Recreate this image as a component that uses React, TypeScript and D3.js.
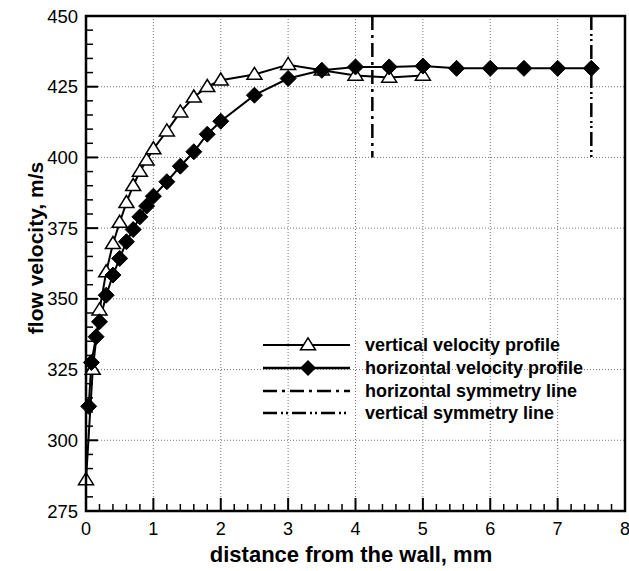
import React from "react";
import * as d3 from "d3";

const vertX = [0, 0.1, 0.2, 0.3, 0.4, 0.5, 0.6, 0.7, 0.8, 0.9, 1.0, 1.2, 1.4, 1.6, 1.8, 2.0, 2.5, 3.0, 3.5, 4.0, 4.5, 5.0];
const vertV = [286, 325, 346, 359.5, 369.5, 377, 384, 390, 395, 399, 403, 409.3, 416, 421.3, 425, 427.3, 429.3, 432.8, 430.8, 429, 428.3, 429];

const horzX = [0.04, 0.08, 0.15, 0.2, 0.3, 0.4, 0.5, 0.6, 0.7, 0.8, 0.9, 1.0, 1.2, 1.4, 1.6, 1.8, 2.0, 2.5, 3.0, 3.5, 4.0, 4.5, 5.0, 5.5, 6.0, 6.5, 7.0, 7.5];
const horzV = [312, 327.5, 336.6, 341.9, 351.3, 358.4, 364.3, 370.2, 374.5, 379, 382.8, 386.3, 391.4, 396.9, 402, 408.2, 412.8, 422, 427.9, 430.8, 432, 432, 432.3, 431.5, 431.5, 431.5, 431.5, 431.5];

const symX = [4.25, 7.5];
const symTop = 450;
const symBottom = 400;

const xTicks = [0, 1, 2, 3, 4, 5, 6, 7, 8];
const yTicks = [275, 300, 325, 350, 375, 400, 425, 450];

const legendLabels = [
  "vertical velocity profile",
  "horizontal velocity profile",
  "horizontal symmetry line",
  "vertical symmetry line",
];

const FONT = "'Liberation Sans', Arial, Helvetica, sans-serif";

export default function App() {
  const x = d3.scaleLinear().domain([0, 8]).range([86, 625]);
  const y = d3.scaleLinear().domain([275, 450]).range([511, 16]);

  const line = d3
    .line<[number, number]>()
    .x((d) => x(d[0]))
    .y((d) => y(d[1]));

  const vertPts: [number, number][] = vertX.map((v, i) => [v, vertV[i]]);
  const horzPts: [number, number][] = horzX.map((v, i) => [v, horzV[i]]);

  const xMinor = d3.range(0, 8.001, 0.2).filter((v) => Math.abs(v - Math.round(v)) > 1e-6);
  const yMinor = d3.range(275, 450.001, 5).filter((v) => v % 25 !== 0);

  const tri = (cx: number, cy: number, w = 15, h = 12) =>
    `M${cx},${cy - h * 0.6}L${cx + w / 2},${cy + h * 0.4}L${cx - w / 2},${cy + h * 0.4}Z`;
  const dia = (cx: number, cy: number, r = 8) =>
    `M${cx},${cy - r}L${cx + r},${cy}L${cx},${cy + r}L${cx - r},${cy}Z`;

  const legX1 = 263;
  const legX2 = 350;
  const legMid = 308;
  const legY = [345, 368, 391, 413];
  const legTextX = 365;

  const dashDot = "14,5,3,5";
  const dashDotDot = "14,4,2,3,2,4";

  return (
    <svg
      width={629}
      height={571}
      style={{ position: "absolute", left: 0, top: 0, background: "#fff" }}
      fontFamily={FONT}
    >
      <rect x={0} y={0} width={629} height={571} fill="#fff" />
      {/* grid */}
      {xTicks.slice(1, -1).map((t) => (
        <line key={"gx" + t} x1={x(t)} x2={x(t)} y1={y(450)} y2={y(275)} stroke="#777" strokeWidth={1} strokeDasharray="1,2" />
      ))}
      {yTicks.slice(1, -1).map((t) => (
        <line key={"gy" + t} x1={x(0)} x2={x(8)} y1={y(t)} y2={y(t)} stroke="#777" strokeWidth={1} strokeDasharray="1,2" />
      ))}

      {/* ticks */}
      {xTicks.map((t) => (
        <line key={"xt" + t} x1={x(t)} x2={x(t)} y1={y(275)} y2={y(275) - 13} stroke="#000" strokeWidth={2} />
      ))}
      {xMinor.map((t) => (
        <line key={"xm" + t} x1={x(t)} x2={x(t)} y1={y(275)} y2={y(275) - 7} stroke="#000" strokeWidth={1.5} />
      ))}
      {yTicks.map((t) => (
        <line key={"yt" + t} x1={x(0)} x2={x(0) + 12} y1={y(t)} y2={y(t)} stroke="#000" strokeWidth={2} />
      ))}
      {yMinor.map((t) => (
        <line key={"ym" + t} x1={x(0)} x2={x(0) + 7} y1={y(t)} y2={y(t)} stroke="#000" strokeWidth={1.5} />
      ))}

      {/* symmetry lines */}
      <line x1={x(symX[0])} x2={x(symX[0])} y1={y(symTop)} y2={y(symBottom)} stroke="#000" strokeWidth={2.5} strokeDasharray={dashDot} />
      <line x1={x(symX[1])} x2={x(symX[1])} y1={y(symTop)} y2={y(symBottom)} stroke="#000" strokeWidth={2.5} strokeDasharray={dashDotDot} />

      {/* series lines */}
      <path d={line(vertPts) || ""} fill="none" stroke="#000" strokeWidth={2} />
      <path d={line(horzPts) || ""} fill="none" stroke="#000" strokeWidth={2} />

      {/* markers */}
      {vertPts.map((p, i) => (
        <path key={"tr" + i} d={tri(x(p[0]), y(p[1]))} fill="#fff" stroke="#000" strokeWidth={1.5} />
      ))}
      {horzPts.map((p, i) => (
        <path key={"dm" + i} d={dia(x(p[0]), y(p[1]))} fill="#000" stroke="#000" strokeWidth={1} />
      ))}

      {/* frame */}
      <rect x={x(0)} y={y(450)} width={x(8) - x(0)} height={y(275) - y(450)} fill="none" stroke="#000" strokeWidth={2.5} />

      {/* tick labels */}
      {xTicks.map((t) => (
        <text key={"xl" + t} x={x(t)} y={535} textAnchor="middle" fontSize={18} fill="#000">
          {t}
        </text>
      ))}
      {yTicks.map((t) => (
        <text key={"yl" + t} x={78} y={y(t) + 6.5} textAnchor="end" fontSize={18.5} fill="#000">
          {t}
        </text>
      ))}

      {/* axis titles */}
      <text x={351} y={562} textAnchor="middle" fontSize={22} fontWeight="bold" fill="#000">
        distance from the wall, mm
      </text>
      <text
        transform={`translate(43,${248}) rotate(-90)`}
        textAnchor="middle"
        fontSize={21}
        fontWeight="bold"
        fill="#000"
      >
        flow velocity, m/s
      </text>

      {/* legend */}
      <line x1={legX1} x2={legX2} y1={legY[0]} y2={legY[0]} stroke="#000" strokeWidth={2} />
      <path d={tri(legMid, legY[0])} fill="#fff" stroke="#000" strokeWidth={1.5} />
      <line x1={legX1} x2={legX2} y1={legY[1]} y2={legY[1]} stroke="#000" strokeWidth={2.5} />
      <path d={dia(legMid, legY[1])} fill="#000" />
      <line x1={legX1} x2={legX2} y1={legY[2]} y2={legY[2]} stroke="#000" strokeWidth={2.5} strokeDasharray={dashDot} />
      <line x1={legX1} x2={legX2} y1={legY[3]} y2={legY[3]} stroke="#000" strokeWidth={2.5} strokeDasharray={dashDotDot} />
      {legendLabels.map((l, i) => (
        <text key={"lg" + i} x={legTextX} y={legY[i] + 6} fontSize={18} fontWeight="bold" fill="#000">
          {l}
        </text>
      ))}
    </svg>
  );
}
